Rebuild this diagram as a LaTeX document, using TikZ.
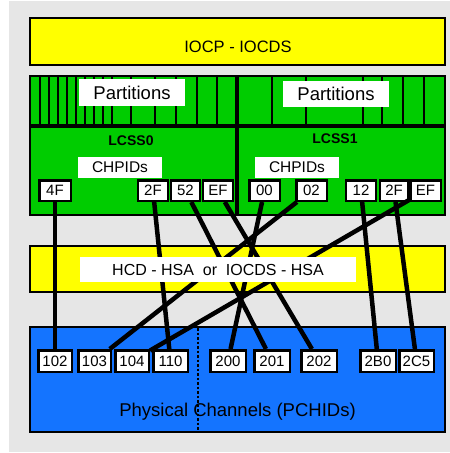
\documentclass[tikz,border=0pt]{standalone}
\usepackage{fontspec}
\setmainfont{Liberation Sans}
\definecolor{bggray}{RGB}{230,230,230}
\definecolor{hsayellow}{RGB}{255,255,0}
\definecolor{lcssgreen}{RGB}{0,204,0}
\definecolor{chanblue}{RGB}{20,116,255}
\begin{document}
\begin{tikzpicture}[x=1pt,y=-1pt,
	box/.style={draw,line width=2.5pt,fill=white,inner sep=0pt,minimum height=20.5pt,font=\fontsize{15}{15}\selectfont},
	tag/.style={fill=white,inner sep=0pt},
	wire/.style={line width=4.5pt}]
	\useasboundingbox (0,0) rectangle (450,453);
	\fill[bggray] (9,1) rectangle (450,452);
% IOCP
	\draw[line width=2pt,fill=hsayellow] (30,18) rectangle (445,65);
	\node (iocp) at (238,46.5) {\fontsize{16.5}{16.5}\selectfont IOCP - IOCDS};
% partitions and LCSSs
	\draw[line width=2pt,fill=lcssgreen] (30,76) rectangle (445,215);
	\foreach \x in {40,49,58,67,76,85,94,103,112,131,155,176,197,217,272,306,363,382,403,424}
		\draw[line width=2pt] (\x,76) -- (\x,126);
	\draw[line width=4pt] (30,126) -- (445,126);
	\draw[line width=4pt] (237,76) -- (237,215);
	\node[tag,minimum width=106pt,minimum height=27pt,font=\fontsize{18.5}{18.5}\selectfont] (part0) at (132,92.5) {Partitions};
	\node[tag,minimum width=106pt,minimum height=26pt,font=\fontsize{18.5}{18.5}\selectfont] (part1) at (336,94) {Partitions};
	\node[font=\bfseries\fontsize{14}{14}\selectfont] (lcss0) at (131,140.5) {LCSS0};
	\node[font=\bfseries\fontsize{14}{14}\selectfont] (lcss1) at (335,138.5) {LCSS1};
	\node[tag,minimum width=84pt,minimum height=21pt,font=\fontsize{15.5}{15.5}\selectfont] (chp0) at (120,167.5) {CHPIDs};
	\node[tag,minimum width=84pt,minimum height=21pt,font=\fontsize{15.5}{15.5}\selectfont] (chp1) at (297,167.5) {CHPIDs};
% CHPIDs
	\node[box,minimum width=31.5pt] (c4F) at (55,190.5) {4F};
	\node[box,minimum width=30pt] (c2Fa) at (153,190.5) {2F};
	\node[box,minimum width=29pt] (c52) at (185.5,190.5) {52};
	\node[box,minimum width=30pt] (cEFa) at (218,190.5) {EF};
	\node[box,minimum width=30.5pt] (c00) at (264.5,190.5) {00};
	\node[box,minimum width=30.5pt] (c02) at (311.5,190.5) {02};
	\node[box,minimum width=30pt] (c12) at (361,190.5) {12};
	\node[box,minimum width=28pt] (c2Fb) at (394,190.5) {2F};
	\node[box,minimum width=30.5pt] (cEFb) at (425.5,190.5) {EF};
% HSA
	\draw[line width=2pt,fill=hsayellow] (30,246) rectangle (445,292);
% PCHIDs
	\draw[line width=2pt,fill=chanblue] (30,327) rectangle (445,432);
	\draw[line width=2.5pt,dash pattern=on 2.5pt off 2pt] (198,328) -- (198,431);
	\node (phys) at (237.5,412) {\fontsize{18.5}{18.5}\selectfont Physical Channels (PCHIDs)};
	\node[box,minimum width=33.5pt,minimum height=21.5pt] (p102) at (55,361) {102};
	\node[box,minimum width=32.5pt,minimum height=21.5pt] (p103) at (94.5,361) {103};
	\node[box,minimum width=33.5pt,minimum height=21.5pt] (p104) at (132,361) {104};
	\node[box,minimum width=34.5pt,minimum height=21.5pt] (p110) at (170.5,361) {110};
	\node[box,minimum width=35.5pt,minimum height=21.5pt] (p200) at (228,361) {200};
	\node[box,minimum width=35.5pt,minimum height=21.5pt] (p201) at (272,361) {201};
	\node[box,minimum width=35.5pt,minimum height=21.5pt] (p202) at (319,361) {202};
	\node[box,minimum width=35.5pt,minimum height=21.5pt] (p2B0) at (378,361) {2B0};
	\node[box,minimum width=34.5pt,minimum height=21.5pt] (p2C5) at (416.5,361) {2C5};
% connections
	\draw[wire] (c4F) -- (p102);
	\draw[wire] (c2Fa) -- (p110);
	\draw[wire] (c52) -- (p201);
	\draw[wire] (cEFa) -- (p202);
	\draw[wire] (c00) -- (p200);
	\draw[wire] (c02) -- (p103);
	\draw[wire] (c12) -- (p2B0);
	\draw[wire] (c2Fb) -- (p2C5);
	\draw[wire] (cEFb) -- (p104);
	\node[tag,minimum width=276pt,minimum height=25pt,font=\fontsize{16}{16}\selectfont] (hsa) at (218,269.5) {HCD - HSA\ \ or\ \ IOCDS - HSA};
\end{tikzpicture}
\end{document}
